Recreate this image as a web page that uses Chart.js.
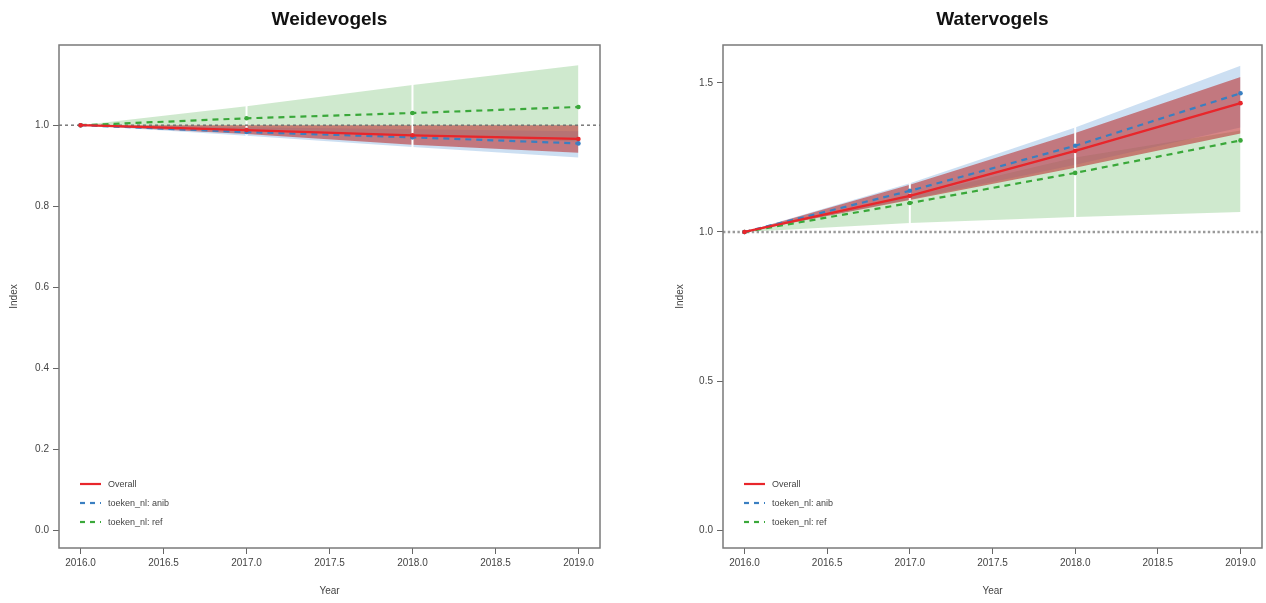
<!DOCTYPE html>
<html><head><meta charset="utf-8">
<script src="https://cdn.jsdelivr.net/npm/chart.js@4.4.1/dist/chart.umd.min.js"></script>
<style>
body{margin:0;background:#fff;width:1266px;height:603px;overflow:hidden;position:relative}
canvas{position:absolute;top:0}
</style></head><body>
<canvas id="c1" width="633" height="603" style="left:0"></canvas>
<canvas id="c2" width="633" height="603" style="left:633px"></canvas>
<script>
// ---------- data ----------
const years = [2016, 2017, 2018, 2019];
const xTicks = [2016.0, 2016.5, 2017.0, 2017.5, 2018.0, 2018.5, 2019.0];
const legendLabels = ['Overall', 'toeken_nl: anib', 'toeken_nl: ref'];
const whiteYears = [2017, 2018];
const refValue = 1.0;

// Weidevogels
const weideTitle = 'Weidevogels';
const weideYTicks = [0.0, 0.2, 0.4, 0.6, 0.8, 1.0];
const weideOverall   = [1.0, 0.988, 0.975, 0.966];
const weideOverallLo = [1.0, 0.978, 0.952, 0.932];
const weideOverallHi = [1.0, 1.000, 1.000, 1.000];
const weideAnib      = [1.0, 0.983, 0.970, 0.955];
const weideAnibLo    = [1.0, 0.974, 0.946, 0.920];
const weideAnibHi    = [1.0, 0.995, 0.990, 0.985];
const weideRef       = [1.0, 1.017, 1.030, 1.045];
const weideRefLo     = [1.0, 0.990, 0.975, 0.960];
const weideRefHi     = [1.0, 1.047, 1.099, 1.148];

// Watervogels
const waterTitle = 'Watervogels';
const waterYTicks = [0.0, 0.5, 1.0, 1.5];
const waterOverall   = [1.0, 1.121, 1.272, 1.432];
const waterOverallLo = [1.0, 1.107, 1.215, 1.330];
const waterOverallHi = [1.0, 1.158, 1.332, 1.520];
const waterAnib      = [1.0, 1.138, 1.289, 1.465];
const waterAnibLo    = [1.0, 1.110, 1.225, 1.350];
const waterAnibHi    = [1.0, 1.163, 1.350, 1.557];
const waterRef       = [1.0, 1.097, 1.198, 1.307];
const waterRefLo     = [1.0, 1.030, 1.050, 1.067];
const waterRefHi     = [1.0, 1.120, 1.250, 1.340];

// ---------- styling ----------
const FONT = "'Liberation Sans', Arial, Helvetica, sans-serif";
const RED = '#e8262b', BLUE = '#3a7fc1', GREEN = '#3aa83a';
const RED_FILL = 'rgba(188,52,52,0.6)';
const BLUE_FILL = 'rgba(120,172,220,0.38)';
const GREEN_FILL = 'rgba(77,175,74,0.27)';
const TXT = '#444';

function series(vals){ return years.map((x, i) => ({x: x, y: vals[i]})); }

function band(hi, lo, color, order, flag){
  return [
    {data: series(hi), fill: '+1', backgroundColor: color, borderWidth: 0, pointRadius: 0, order: order, refAfter: !!flag},
    {data: series(lo), fill: false, borderWidth: 0, pointRadius: 0, order: order}
  ];
}
function line(vals, color, dash, order){
  return {data: series(vals), borderColor: color, backgroundColor: color, borderWidth: 2.2,
    borderDash: dash, pointRadius: 2.3, pointBorderWidth: 0, fill: false, order: order};
}

function makePlugin(cfg){
  return {
    id: 'panel',
    afterDatasetDraw(chart, args){
      const ds = chart.data.datasets[args.index];
      if (!ds.refAfter) return;
      const ctx = chart.ctx, a = chart.chartArea, xs = chart.scales.x, ys = chart.scales.y;
      ctx.save();
      ctx.beginPath(); ctx.rect(a.left, a.top, a.right - a.left, a.bottom - a.top); ctx.clip();
      ctx.strokeStyle = '#ffffff'; ctx.lineWidth = 2;
      whiteYears.forEach(v => {
        const px = xs.getPixelForValue(v);
        ctx.beginPath(); ctx.moveTo(px, a.top); ctx.lineTo(px, a.bottom); ctx.stroke();
      });
      ctx.strokeStyle = cfg.refColor; ctx.lineWidth = cfg.refWidth; ctx.setLineDash(cfg.refDash);
      const py = ys.getPixelForValue(refValue);
      ctx.beginPath(); ctx.moveTo(a.left, py); ctx.lineTo(a.right, py); ctx.stroke();
      ctx.restore();
    },
    afterDraw(chart){
      const ctx = chart.ctx, a = chart.chartArea;
      ctx.save();
      // box
      ctx.strokeStyle = '#7a7a7a'; ctx.lineWidth = 1.5;
      ctx.strokeRect(a.left, a.top, a.right - a.left, a.bottom - a.top);
      // title
      ctx.fillStyle = '#111';
      ctx.font = 'bold 19px ' + FONT;
      ctx.textAlign = 'center'; ctx.textBaseline = 'middle';
      ctx.fillText(cfg.title, (a.left + a.right) / 2, 20);
      // legend
      const colors = [RED, BLUE, GREEN];
      const dashes = [[], [5, 5], [5, 5]];
      ctx.font = '9px ' + FONT;
      ctx.textAlign = 'left';
      for (let i = 0; i < legendLabels.length; i++){
        const yy = a.bottom - 64 + i * 19;
        ctx.strokeStyle = colors[i]; ctx.lineWidth = 2.2; ctx.setLineDash(dashes[i]);
        ctx.beginPath(); ctx.moveTo(a.left + 21, yy); ctx.lineTo(a.left + 42, yy); ctx.stroke();
        ctx.setLineDash([]);
        ctx.fillStyle = TXT;
        ctx.fillText(legendLabels[i], a.left + 49, yy + 1);
      }
      ctx.restore();
    }
  };
}

function makeChart(id, cfg){
  const datasets = [
    line(cfg.overall, RED, [], 0),
    line(cfg.anib, BLUE, [6, 5], 1),
    line(cfg.ref, GREEN, [6, 5], 2),
    ...band(cfg.overallHi, cfg.overallLo, RED_FILL, 3, true),
    ...band(cfg.anibHi, cfg.anibLo, BLUE_FILL, 4),
    ...band(cfg.refHi, cfg.refLo, GREEN_FILL, 5)
  ];
  return new Chart(document.getElementById(id), {
    type: 'line',
    data: {datasets: datasets},
    plugins: [makePlugin(cfg)],
    options: {
      responsive: false, animation: false, devicePixelRatio: 1,
      layout: {padding: {left: cfg.padLeft, right: cfg.padRight, top: 45, bottom: 0}},
      plugins: {legend: {display: false}, tooltip: {enabled: false}, title: {display: false}},
      elements: {line: {tension: 0}},
      scales: {
        x: {
          type: 'linear', min: 2015.87, max: 2019.13,
          afterBuildTicks: ax => { ax.ticks = xTicks.map(v => ({value: v})); },
          afterFit: ax => { ax.height = 55; },
          grid: {drawOnChartArea: false, drawTicks: true, tickLength: 6, color: '#666', lineWidth: 1},
          border: {display: false},
          ticks: {padding: 3, color: TXT, font: {family: FONT, size: 10}, maxRotation: 0, autoSkip: false,
                  callback: v => Number(v).toFixed(1)},
          title: {display: true, text: 'Year', color: TXT, font: {family: FONT, size: 10}, padding: {top: 0, bottom: 6}}
        },
        y: {
          type: 'linear', min: cfg.yMin, max: cfg.yMax,
          afterBuildTicks: ax => { ax.ticks = cfg.yTicks.map(v => ({value: v})); },
          afterFit: ax => { ax.width = cfg.yWidth; },
          grid: {drawOnChartArea: false, drawTicks: true, tickLength: 6, color: '#666', lineWidth: 1},
          border: {display: false},
          ticks: {padding: 4, color: TXT, font: {family: FONT, size: 10}, autoSkip: false,
                  callback: v => Number(v).toFixed(1)},
          title: {display: true, text: 'Index', color: TXT, font: {family: FONT, size: 10}, padding: {top: 8, bottom: 0}}
        }
      }
    }
  });
}

makeChart('c1', {
  title: weideTitle, yTicks: weideYTicks, yMin: -0.044, yMax: 1.198,
  overall: weideOverall, overallLo: weideOverallLo, overallHi: weideOverallHi,
  anib: weideAnib, anibLo: weideAnibLo, anibHi: weideAnibHi,
  ref: weideRef, refLo: weideRefLo, refHi: weideRefHi,
  padLeft: 0, padRight: 33, yWidth: 59,
  refColor: '#6f6f6f', refWidth: 1.4, refDash: [3, 3]
});
makeChart('c2', {
  title: waterTitle, yTicks: waterYTicks, yMin: -0.06, yMax: 1.627,
  overall: waterOverall, overallLo: waterOverallLo, overallHi: waterOverallHi,
  anib: waterAnib, anibLo: waterAnibLo, anibHi: waterAnibHi,
  ref: waterRef, refLo: waterRefLo, refHi: waterRefHi,
  padLeft: 33, padRight: 3, yWidth: 57,
  refColor: '#9a9a9a', refWidth: 2.4, refDash: [2.4, 2.4]
});
</script>
</body></html>
